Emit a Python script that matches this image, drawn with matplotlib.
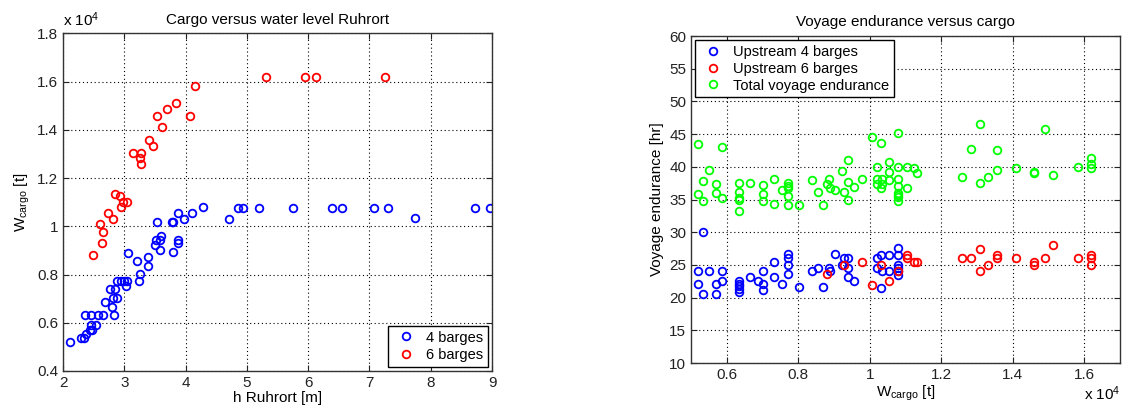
import matplotlib
matplotlib.use("Agg")
import matplotlib.pyplot as plt
from matplotlib.ticker import FuncFormatter, MultipleLocator

plt.rcParams["font.family"] = ["Liberation Sans", "DejaVu Sans"]
plt.rcParams["mathtext.fontset"] = "custom"
plt.rcParams["mathtext.rm"] = "Liberation Sans"
plt.rcParams["mathtext.it"] = "Liberation Sans:italic"

# water level at Ruhrort [m] and cargo [t], 4 barge convoys
h_4 = [2.12, 2.30, 2.335, 2.37, 2.44, 2.48, 2.46, 2.54, 2.35, 2.46, 2.57, 2.65, 2.83,
       2.80, 2.69, 2.82, 2.88, 2.77, 2.84, 2.88, 2.94, 2.99, 3.04, 3.02, 3.24, 3.26,
       3.38, 3.38, 3.20, 3.06, 3.50, 3.58, 3.52, 3.58, 3.60, 3.79, 3.87, 3.88, 3.53,
       3.77, 3.80, 3.98, 3.88, 4.10, 4.28, 4.70, 4.85, 4.93, 5.20, 5.745, 6.39, 6.55,
       7.07, 7.30, 7.74, 8.72, 8.97]
w_4 = [5200, 5350, 5350, 5520, 5720, 5720, 5890, 5890, 6340, 6340, 6340, 6340, 6340,
       6660, 6880, 7030, 7030, 7380, 7380, 7740, 7740, 7740, 7740, 7540, 7720, 8040,
       8370, 8720, 8570, 8900, 9240, 9030, 9420, 9420, 9590, 8920, 9420, 9310, 10190,
       10190, 10190, 10300, 10550, 10550, 10800, 10300, 10770, 10770, 10770, 10770,
       10770, 10770, 10770, 10770, 10340, 10770, 10770]

# 6 barge convoys
h_6 = [2.49, 2.64, 2.65, 2.60, 2.82, 2.74, 2.94, 2.97, 3.05, 2.93, 2.85, 3.14, 3.27,
       3.25, 3.27, 3.41, 3.47, 3.53, 3.61, 3.70, 3.85, 4.07, 4.16, 5.31, 5.95, 6.12, 7.26]
w_6 = [8830, 9310, 9770, 10080, 10320, 10550, 10800, 11020, 11020, 11240, 11340,
       13060, 13060, 12830, 12590, 13560, 13310, 14580, 14100, 14870, 15100, 14580,
       15820, 16210, 16210, 16210, 16210]

# voyage endurance [hr] against cargo [t]
wc_up4 = [5190, 5190, 5340, 5340, 5500, 5700, 5700, 5860, 5860, 6340, 6340, 6340,
          6340, 6340, 6660, 6860, 7020, 7020, 7020, 7330, 7330, 7540, 7700, 7700,
          7700, 7700, 8020, 8380, 8550, 8700, 8860, 8880, 9030, 9230, 9290, 9390,
          9390, 9390, 9550, 10190, 10310, 10550, 10800, 10800, 10190, 10340, 10550,
          10800, 10800, 10800, 10800, 10310]
t_up4 = [24.0, 22.1, 20.6, 30.1, 24.0, 22.1, 20.6, 24.0, 22.6, 22.6, 22.15, 21.75,
         21.35, 20.9, 23.1, 22.6, 24.0, 22.1, 21.1, 25.5, 23.1, 22.1, 26.6, 26.1, 25.05,
         23.6, 21.6, 24.0, 24.6, 21.6, 24.6, 24.0, 26.6, 25.05, 26.1, 26.1, 24.55,
         23.1, 22.6, 26.0, 26.5, 26.5, 27.55, 26.5, 24.5, 24.0, 24.0, 25.0, 24.5, 24.0,
         23.5, 21.55]

wc_up6 = [8800, 9290, 9770, 10060, 10310, 10550, 10800, 11030, 11030, 11230, 11330,
          12590, 12830, 13070, 13070, 13310, 13560, 13560, 14100, 14580, 14580, 14890,
          15130, 15830, 16200, 16200, 16200]
t_up6 = [23.6, 25.05, 25.5, 22.0, 25.0, 22.5, 24.0, 26.5, 26.0, 25.5, 25.5, 26.0,
         26.0, 27.5, 24.0, 25.0, 26.5, 26.0, 26.0, 25.5, 25.0, 26.0, 28.0, 26.0, 26.5,
         26.0, 25.0]

wc_tot = [5190, 5190, 5340, 5340, 5500, 5700, 5700, 5860, 5860, 6340, 6340, 6340,
          6340, 6340, 6660, 7020, 7020, 7020, 7330, 7330, 7540, 7700, 7700, 7700, 7700,
          7700, 8020, 8380, 8550, 8700, 8800, 8860, 8880, 9030, 9230, 9290, 9390, 9390,
          9390, 9550, 9770, 10070, 10310, 10800, 10190, 10190, 10190, 10340, 10340,
          10310, 10550, 10550, 10550, 10800, 10800, 10800, 10800, 10800, 10800, 10800,
          11030, 11030, 11230, 11330, 12590, 12830, 13070, 13070, 13310, 13560, 13560,
          14100, 14580, 14580, 14890, 15130, 15830, 16200, 16200, 16200]
t_tot = [43.5, 35.8, 37.9, 34.8, 39.5, 37.3, 36.0, 43.0, 35.2, 37.5, 36.1, 35.3, 35.0,
         33.3, 37.5, 37.2, 35.8, 34.8, 38.2, 34.3, 36.5, 37.6, 37.1, 36.7, 35.5, 34.1,
         34.1, 38.0, 36.2, 34.1, 37.4, 38.2, 36.7, 36.5, 39.3, 36.2, 41.0, 37.7, 35.0,
         36.9, 38.2, 44.5, 43.7, 45.2, 40.0, 38.2, 37.35, 38.2, 37.35, 36.7, 40.7,
         39.25, 37.95, 40.0, 38.2, 37.0, 36.05, 35.75, 35.4, 34.7, 40.0, 36.8, 39.75,
         39.0, 38.5, 42.75, 46.5, 37.5, 38.5, 42.5, 39.5, 39.75, 39.25, 39.0, 45.8,
         38.75, 40.0, 41.3, 40.5, 39.75]

marker_kw = dict(linestyle="none", marker="o", markersize=5.5, markerfacecolor="none",
                 markeredgewidth=1.3)

ten4 = FuncFormatter(lambda v, p: f"{v / 1e4:g}")


def style_axes(ax):
    ax.grid(True, color="black", linestyle=(0, (1, 2.5)), linewidth=0.8)
    ax.tick_params(direction="in", top=True, right=True, length=4, labelsize=11,
                   colors="#222222", width=0.8)
    for s in ax.spines.values():
        s.set_linewidth(1.0)
        s.set_color("#333333")


def boxed_legend(ax, loc, spacing):
    leg = ax.legend(loc=loc, fontsize=10.5, fancybox=False, framealpha=1,
                    edgecolor="black", borderaxespad=0.3, handletextpad=0.5,
                    handlelength=1.8, borderpad=0.3, labelspacing=spacing)
    leg.get_frame().set_linewidth(1.0)
    return leg


fig = plt.figure(figsize=(11.26, 4.07), dpi=100)

# left panel
ax1 = fig.add_axes([0.056, 0.0885, 0.381, 0.8295])
ax1.plot(h_4, w_4, color="#0000ff", label="4 barges", **marker_kw)
ax1.plot(h_6, w_6, color="#ff0000", label="6 barges", **marker_kw)
ax1.set_xlim(2, 9)
ax1.set_ylim(4000, 18000)
ax1.yaxis.set_major_locator(MultipleLocator(2000))
ax1.yaxis.set_major_formatter(ten4)
style_axes(ax1)
ax1.set_title("Cargo versus water level Ruhrort", fontsize=11, pad=7)
ax1.set_xlabel("h Ruhrort [m]", fontsize=11, labelpad=1)
ax1.set_ylabel(r"W$_{\mathrm{cargo}}$ [t]", fontsize=11, labelpad=4)
ax1.text(0.0, 1.012, r"x 10$^{4}$", transform=ax1.transAxes, fontsize=11, va="bottom")
boxed_legend(ax1, "lower right", 0.25)

# right panel
ax2 = fig.add_axes([0.6137, 0.108, 0.381, 0.8035])
ax2.plot(wc_up4, t_up4, color="#0000ff", label="Upstream 4 barges", **marker_kw)
ax2.plot(wc_up6, t_up6, color="#ff0000", label="Upstream 6 barges", **marker_kw)
ax2.plot(wc_tot, t_tot, color="#00ff00", label="Total voyage endurance", **marker_kw)
ax2.set_xlim(5000, 17000)
ax2.set_ylim(10, 60)
ax2.xaxis.set_major_locator(MultipleLocator(2000))
ax2.xaxis.set_major_formatter(ten4)
ax2.yaxis.set_major_locator(MultipleLocator(5))
style_axes(ax2)
ax2.set_title("Voyage endurance versus cargo", fontsize=11, pad=7)
ax2.set_xlabel(r"W$_{\mathrm{cargo}}$ [t]", fontsize=11, labelpad=1)
ax2.set_ylabel("Voyage endurance [hr]", fontsize=11, labelpad=4)
ax2.text(1.0, -0.065, r"x 10$^{4}$", transform=ax2.transAxes, fontsize=11,
         ha="right", va="top")
boxed_legend(ax2, "upper left", 0.2)

fig.savefig("out.png", dpi=100)
